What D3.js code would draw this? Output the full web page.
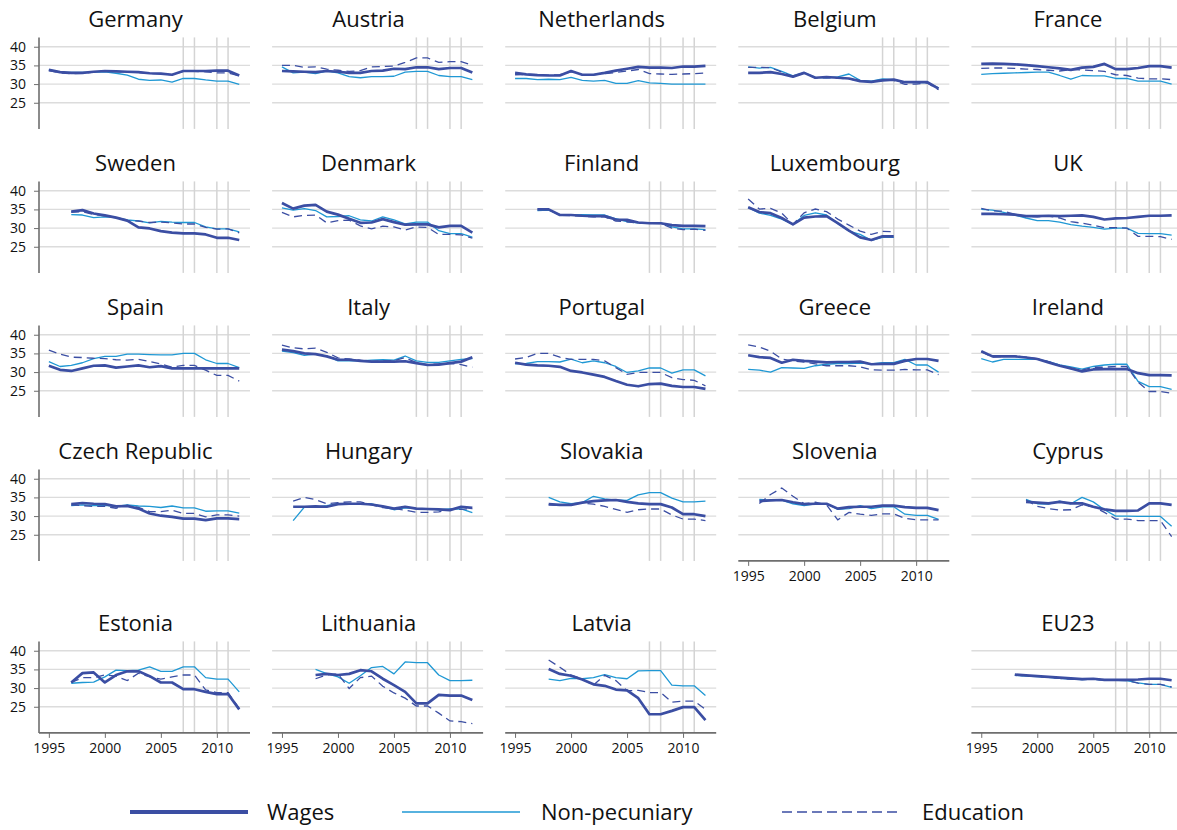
<!DOCTYPE html>
<html><head><meta charset="utf-8">
<script src="https://cdn.jsdelivr.net/npm/d3@7"></script>
<style>body{margin:0;background:#fff} text{font-family:"Open Sans",sans-serif;fill:#111}</style>
</head><body><svg id="c" width="1177" height="830"></svg>
<script>
const years = d3.range(1995, 2013);
const countries = ["Germany","Austria","Netherlands","Belgium","France",
  "Sweden","Denmark","Finland","Luxembourg","UK",
  "Spain","Italy","Portugal","Greece","Ireland",
  "Czech Republic","Hungary","Slovakia","Slovenia","Cyprus",
  "Estonia","Lithuania","Latvia","EU23"];
const yTicks = [25,30,35,40];
const xTicks = [1995,2000,2005,2010];
const markerYears = [2007,2008,2010,2011];
const seriesNames = ["Wages","Non-pecuniary","Education"];
const _ = null;
const wages = [
 [33.8,33.2,33.0,33.0,33.3,33.5,33.4,33.3,33.2,32.9,32.8,32.5,33.5,33.5,33.5,33.6,33.6,32.3],
 [33.5,33.4,33.3,33.2,33.5,33.3,33.0,33.0,33.5,33.6,34.1,34.0,34.5,34.5,34.0,34.3,34.3,33.1],
 [33.0,32.6,32.4,32.3,32.3,33.5,32.5,32.5,33.0,33.6,34.1,34.6,34.4,34.4,34.3,34.7,34.7,34.9],
 [33.0,33.0,33.2,32.7,32.0,33.0,31.7,31.9,31.7,31.5,30.8,30.6,31.0,31.2,30.5,30.5,30.5,28.8],
 [35.4,35.5,35.4,35.3,35.1,34.8,34.5,34.2,33.8,34.4,34.6,35.4,34.0,34.0,34.3,34.8,34.8,34.4],
 [_,_,34.4,34.8,33.9,33.4,32.8,32.0,30.2,29.9,29.2,28.8,28.6,28.6,28.3,27.4,27.4,26.8],
 [36.7,35.2,36.0,36.2,34.4,33.6,32.5,31.4,31.5,32.4,31.6,30.9,31.0,31.0,30.2,30.6,30.6,28.8],
 [_,_,35.0,35.0,33.5,33.5,33.3,33.2,33.2,32.3,32.2,31.5,31.3,31.3,30.8,30.6,30.6,30.5],
 [35.6,34.3,34.0,32.7,31.0,32.8,33.1,33.2,31.3,29.3,27.5,26.8,27.8,27.8,_,_,_,_],
 [33.8,33.8,33.7,33.6,33.2,33.2,33.3,33.2,33.3,33.4,33.0,32.3,32.6,32.7,33.0,33.3,33.3,33.4],
 [31.7,30.6,30.3,31.0,31.7,31.8,31.2,31.5,31.8,31.3,31.6,31.0,31.0,31.0,31.0,31.0,31.0,31.0],
 [36.0,35.6,35.0,34.8,34.2,33.3,33.3,33.0,32.8,32.8,32.8,32.9,32.4,31.9,32.0,32.4,32.8,34.0],
 [32.5,32.0,31.8,31.7,31.4,30.3,29.9,29.3,28.7,27.6,26.6,26.2,26.8,26.9,26.3,26.0,26.0,25.5],
 [34.5,34.0,33.8,32.5,33.3,33.0,32.8,32.6,32.7,32.7,32.8,32.1,32.2,32.2,33.0,33.5,33.5,33.0],
 [35.6,34.2,34.2,34.2,33.9,33.5,32.6,31.7,31.0,30.2,30.7,30.8,30.8,30.8,29.7,29.2,29.2,29.1],
 [_,_,33.2,33.5,33.3,33.2,32.6,32.7,32.0,30.7,30.1,29.8,29.3,29.3,28.9,29.4,29.4,29.2],
 [_,32.5,32.5,32.6,32.5,33.2,33.3,33.3,33.1,32.6,32.0,32.5,32.0,31.9,31.8,31.6,32.5,32.2],
 [_,_,_,33.2,33.0,33.0,33.6,34.0,34.2,34.3,33.8,33.4,33.2,33.2,32.3,30.5,30.5,30.0],
 [_,34.0,34.2,34.3,33.7,33.2,33.3,33.3,32.0,32.4,32.5,32.5,32.8,32.8,32.4,32.2,32.2,31.6],
 [_,_,_,_,33.8,33.6,33.4,33.8,33.4,33.4,32.5,31.8,31.4,31.4,31.5,33.4,33.4,33.0],
 [_,_,31.5,34.0,34.2,31.5,33.5,34.5,34.5,33.2,31.5,31.5,29.7,29.7,29.0,28.4,28.4,24.3],
 [_,_,_,33.5,33.8,33.5,33.8,34.8,34.5,32.5,30.8,29.0,25.9,25.9,28.2,28.0,28.0,26.8],
 [_,_,_,35.1,33.8,33.3,32.3,31.0,30.6,29.6,29.4,27.3,23.0,23.0,23.9,24.9,24.9,21.4],
 [_,_,_,33.6,33.4,33.2,33.0,32.8,32.6,32.4,32.5,32.2,32.2,32.2,32.3,32.5,32.5,32.1]
];
const nonPecuniary = [
 [33.9,33.2,33.1,33.1,33.2,33.3,32.9,32.4,31.3,31.0,31.1,30.5,31.5,31.5,31.1,30.8,30.8,29.9],
 [34.6,33.0,33.2,32.8,33.5,33.0,32.0,31.7,32.0,32.0,32.1,33.2,33.4,33.4,32.3,32.0,32.0,31.2],
 [31.5,31.5,31.2,31.3,31.2,31.8,31.0,30.8,31.0,30.2,30.2,30.9,30.3,30.2,30.0,30.0,30.0,30.0],
 [34.6,34.3,34.5,33.4,32.2,33.1,31.8,31.7,31.9,32.7,31.0,30.8,31.4,31.2,30.5,30.4,30.4,29.0],
 [32.6,32.8,32.9,33.0,33.1,33.2,33.2,32.3,31.3,32.3,32.2,32.2,31.5,31.5,30.8,30.8,30.8,30.0],
 [_,_,33.6,33.5,32.8,33.0,32.8,32.2,31.9,31.4,31.8,31.6,31.5,31.5,30.3,29.8,29.8,29.0],
 [35.4,34.8,35.2,34.7,33.0,33.1,33.3,32.2,31.9,33.0,32.2,31.1,31.6,31.6,29.3,28.5,28.5,27.6],
 [_,_,34.7,34.8,33.6,33.5,33.6,33.5,33.5,32.5,31.7,31.4,31.4,31.4,30.3,29.8,29.8,29.6],
 [35.5,34.0,33.4,32.4,31.0,33.4,34.1,33.5,31.2,29.2,28.3,26.7,27.5,27.5,_,_,_,_],
 [35.0,34.8,34.2,33.5,32.7,32.0,32.0,31.6,30.9,30.5,30.2,29.7,30.0,30.0,28.6,28.5,28.5,28.1],
 [32.8,31.5,31.8,32.5,33.6,34.2,34.2,34.8,34.8,34.7,34.6,34.6,35.0,35.0,33.3,32.3,32.3,31.2],
 [35.6,35.2,34.5,34.8,34.3,33.0,33.1,33.0,33.2,33.3,33.2,34.3,33.0,32.6,32.6,33.0,33.4,33.6],
 [32.2,32.3,32.8,32.8,32.7,33.5,32.5,33.0,32.5,31.5,29.9,30.3,31.1,31.1,29.7,30.6,30.6,29.0],
 [30.7,30.5,30.0,31.2,31.1,31.0,31.7,32.1,32.3,32.3,32.4,32.2,32.5,32.5,33.4,31.9,31.9,30.0],
 [33.6,32.7,33.4,33.4,33.4,33.5,32.8,31.9,31.4,30.8,31.5,31.9,32.1,32.1,27.5,26.1,26.1,25.4],
 [_,_,32.8,33.0,32.8,32.9,32.6,33.0,32.7,32.6,32.3,32.7,32.2,32.2,31.3,31.4,31.4,30.8],
 [_,28.8,32.4,32.4,32.8,33.3,33.3,33.3,33.3,32.5,31.7,32.2,32.0,32.0,31.7,31.9,31.9,30.9],
 [_,_,_,35.0,33.8,33.3,33.6,35.3,34.6,34.3,34.2,35.7,36.3,36.3,34.8,33.8,33.8,34.0],
 [_,34.5,34.2,34.3,33.3,32.8,33.3,33.3,31.8,32.0,32.8,32.0,32.5,32.5,30.5,30.2,30.2,29.1],
 [_,_,_,_,34.5,33.3,33.2,34.0,33.3,35.0,33.8,31.7,30.0,30.0,29.9,29.9,29.9,27.3],
 [_,_,31.3,31.5,31.6,33.0,34.8,34.7,34.8,35.7,34.5,34.5,35.7,35.7,32.8,32.4,32.4,29.0],
 [_,_,_,35.0,33.9,33.0,31.3,33.3,35.5,35.8,33.8,37.0,36.8,36.8,33.5,32.0,32.0,32.1],
 [_,_,_,32.4,32.0,32.6,32.5,32.8,33.6,32.8,32.5,34.6,34.7,34.7,30.8,30.6,30.6,28.0],
 [_,_,_,33.4,33.2,33.1,32.9,32.6,32.4,32.3,32.4,32.1,32.1,32.0,31.4,31.0,31.0,30.2]
];
const education = [
 [33.6,33.0,32.8,32.9,33.2,33.6,33.4,33.2,33.1,32.8,32.8,32.5,33.4,33.4,33.3,33.0,33.0,32.2],
 [35.0,35.0,34.5,34.6,34.0,33.7,33.4,33.6,34.6,34.7,34.8,35.8,37.0,37.0,35.8,36.0,36.0,35.0],
 [32.5,32.6,32.5,32.4,32.5,33.3,32.5,32.5,32.8,33.1,33.5,33.9,32.8,32.7,32.6,32.7,32.8,33.0],
 [34.5,34.5,34.4,33.2,32.0,33.0,31.6,31.7,31.6,31.4,30.8,30.6,31.0,31.0,29.9,30.0,30.3,28.5],
 [34.2,34.3,34.3,34.2,34.0,33.9,33.7,33.5,33.9,33.8,33.6,33.4,32.5,32.3,31.6,31.4,31.4,31.2],
 [_,_,34.3,34.4,33.6,33.3,32.8,32.0,31.9,31.5,31.6,31.4,31.1,31.1,30.2,29.7,29.8,28.7],
 [34.2,33.0,33.4,33.5,31.4,32.0,32.1,30.6,29.8,30.5,30.3,29.5,30.3,30.2,28.3,28.3,28.2,27.3],
 [_,_,35.1,35.0,33.4,33.3,33.2,33.0,33.0,31.9,31.7,31.3,31.3,31.2,30.0,29.6,29.7,29.4],
 [37.8,35.1,35.3,34.0,31.0,34.1,35.1,34.4,32.4,30.8,29.2,28.3,29.1,29.0,_,_,_,_],
 [35.3,34.6,34.5,33.7,33.2,33.0,33.2,32.7,31.7,31.3,30.8,30.1,30.1,30.0,27.8,27.8,27.7,27.0],
 [35.9,34.8,34.0,33.9,33.7,33.6,33.3,33.2,33.4,32.8,32.2,31.3,31.8,31.8,30.5,29.1,29.1,27.6],
 [37.2,36.5,36.2,36.4,35.3,33.8,33.5,33.2,32.8,33.0,33.0,33.9,32.5,32.0,32.2,32.3,32.0,31.3],
 [33.5,33.9,35.0,35.0,34.0,33.4,33.4,33.4,33.0,31.2,29.4,29.9,29.9,29.9,28.5,28.0,27.8,26.3],
 [37.3,36.7,35.6,33.5,33.0,32.7,32.2,31.7,31.7,31.7,31.4,30.6,30.5,30.5,30.7,30.6,30.6,29.3],
 [35.5,34.0,34.2,34.3,34.0,33.6,32.8,31.8,30.9,30.5,31.3,31.3,31.5,31.5,27.3,24.8,24.8,24.3],
 [_,_,33.0,32.8,32.6,32.6,32.1,32.9,32.3,31.2,31.2,31.6,30.7,30.7,29.8,30.3,30.3,30.0],
 [_,34.0,35.0,34.4,33.3,33.6,33.8,33.8,33.0,32.3,32.0,31.6,31.0,31.0,31.1,31.8,31.8,32.0],
 [_,_,_,33.0,32.8,33.2,33.5,33.2,32.6,31.8,31.0,31.7,31.9,31.9,30.3,29.2,29.2,28.8],
 [_,33.4,35.8,37.5,35.3,33.3,33.7,33.0,29.0,31.0,30.5,30.2,30.6,30.6,29.4,29.0,29.0,29.0],
 [_,_,_,_,34.3,32.6,32.0,31.6,31.7,33.0,32.5,31.0,29.2,29.2,28.8,28.8,28.8,24.5],
 [_,_,31.5,32.8,32.8,33.5,33.2,32.0,34.0,33.0,32.4,33.0,33.5,33.5,29.5,28.8,28.8,24.5],
 [_,_,_,32.5,33.5,33.8,29.9,32.8,33.2,30.5,28.7,27.3,25.2,25.2,23.3,21.2,21.0,20.5],
 [_,_,_,37.5,35.6,33.5,32.4,30.8,33.4,32.0,29.3,29.4,28.8,28.8,26.2,26.5,26.5,24.3],
 [_,_,_,33.5,33.3,33.1,32.9,32.6,32.4,32.3,32.4,32.1,32.1,32.0,31.3,31.0,31.0,30.3]
];

const COL_W = 233.1, PW = 211, PH = 91.5;
const rowTops = [37.4, 181.4, 325.4, 469.4, 641.4];
const colorW = "#3b4ea3", colorN = "#1f98d4", colorE = "#3b4ea3";
const svg = d3.select("#c");
const x = d3.scaleLinear().domain([1994.12, 2012.96]).range([0, PW]);
const y = d3.scaleLinear().domain([18, 42.5]).range([PH, 0]);
const line = d3.line().defined(d => d != null).x((d, j) => x(years[j])).y(d => y(d));

countries.forEach((name, i) => {
  const slot = i < 23 ? i : 24;
  const r = Math.floor(slot / 5), c = slot % 5;
  const g = svg.append("g").attr("transform", `translate(${39 + c * COL_W},${rowTops[r]})`);
  g.append("text").attr("x", 96.5).attr("y", -10).attr("text-anchor", "middle")
    .attr("font-size", 22).text(name);
  g.selectAll(".hg").data(yTicks).join("line")
    .attr("x1", 0).attr("x2", PW).attr("y1", d => y(d)).attr("y2", d => y(d))
    .attr("stroke", "#dcdcdc").attr("stroke-width", 1.3);
  g.selectAll(".vg").data(markerYears).join("line")
    .attr("x1", d => x(d)).attr("x2", d => x(d)).attr("y1", 0).attr("y2", PH)
    .attr("stroke", "#d4d4d4").attr("stroke-width", 1.5);
  if (c === 0) {
    const ax = g.append("g").call(d3.axisLeft(y).tickValues(yTicks).tickSize(5).tickPadding(8));
    ax.select(".domain").attr("d", `M0,0V${PH}`).attr("stroke", "#6e6e6e").attr("stroke-width", 1.6);
    ax.selectAll(".tick line").attr("stroke", "#6e6e6e");
    ax.selectAll("text").attr("font-size", 14).attr("font-family", "Open Sans").attr("fill", "#111");
  }
  if (r === 4 || i === 18) {
    const ax = g.append("g").attr("transform", `translate(0,${PH})`)
      .call(d3.axisBottom(x).tickValues(xTicks).tickFormat(d3.format("d")).tickSize(5).tickPadding(5));
    ax.select(".domain").attr("d", `M0,0H${PW}`).attr("stroke", "#6e6e6e").attr("stroke-width", 1.6);
    ax.selectAll(".tick line").attr("stroke", "#6e6e6e");
    ax.selectAll("text").attr("font-size", 14).attr("font-family", "Open Sans").attr("fill", "#111");
  }
  g.append("path").attr("d", line(nonPecuniary[i])).attr("fill", "none")
    .attr("stroke", colorN).attr("stroke-width", 1.3).attr("stroke-linejoin", "round");
  g.append("path").attr("d", line(education[i])).attr("fill", "none")
    .attr("stroke", colorE).attr("stroke-width", 1.3).attr("stroke-dasharray", "8,5");
  g.append("path").attr("d", line(wages[i])).attr("fill", "none")
    .attr("stroke", colorW).attr("stroke-width", 2.7).attr("stroke-linejoin", "round");
});

// legend
const legend = [
  {name: seriesNames[0], x1: 130, x2: 248, tx: 267, color: colorW, w: 3.8, dash: null},
  {name: seriesNames[1], x1: 402, x2: 520, tx: 541, color: colorN, w: 1.6, dash: null},
  {name: seriesNames[2], x1: 782, x2: 902, tx: 922, color: colorE, w: 1.6, dash: "10,5"}
];
const lg = svg.append("g");
legend.forEach(l => {
  lg.append("line").attr("x1", l.x1).attr("x2", l.x2).attr("y1", 812).attr("y2", 812)
    .attr("stroke", l.color).attr("stroke-width", l.w).attr("stroke-dasharray", l.dash);
  lg.append("text").attr("x", l.tx).attr("y", 820).attr("font-size", 22).text(l.name);
});
</script></body></html>
